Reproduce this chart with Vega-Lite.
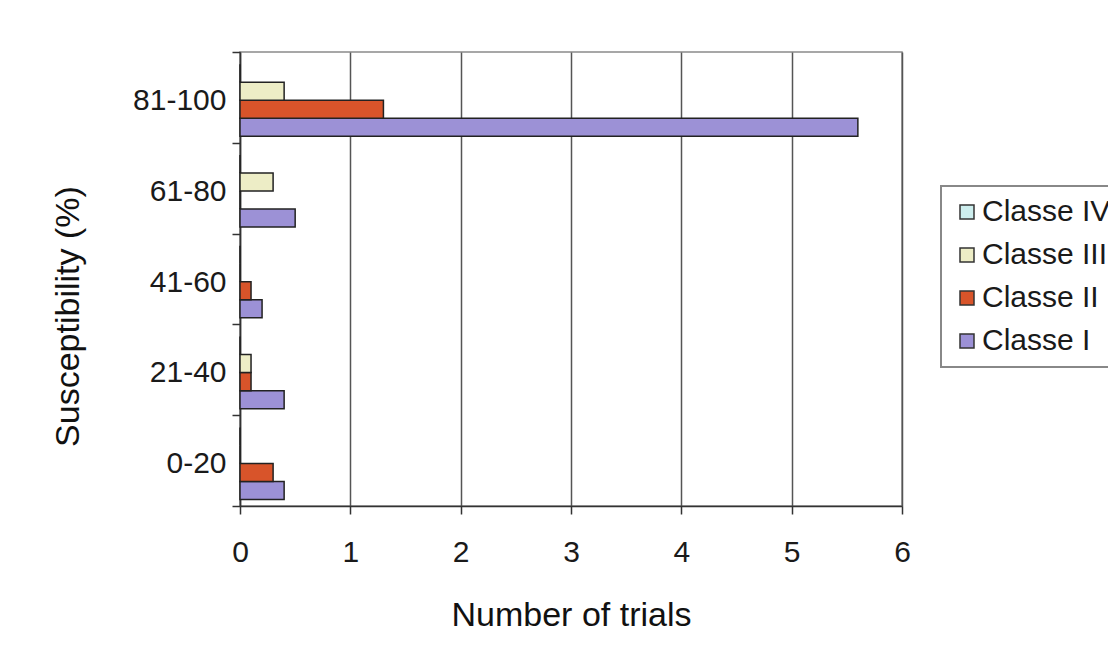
{
  "$schema": "https://vega.github.io/schema/vega-lite/v6.json",
  "width": 662,
  "height": 454,
  "autosize": {"type": "none"},
  "padding": {"left": 240, "top": 52, "right": 206, "bottom": 151},
  "background": "white",
  "config": {
    "font": "Liberation Sans",
    "view": {"stroke": "#8a8a8a", "strokeWidth": 1.5},
    "legend": {"strokeWidth": 2}
  },
  "data": {
    "values": [
      {"range": "0-20", "classe": "Classe I", "trials": 0.4},
      {"range": "0-20", "classe": "Classe II", "trials": 0.3},
      {"range": "0-20", "classe": "Classe III", "trials": 0},
      {"range": "0-20", "classe": "Classe IV", "trials": 0},
      {"range": "21-40", "classe": "Classe I", "trials": 0.4},
      {"range": "21-40", "classe": "Classe II", "trials": 0.1},
      {"range": "21-40", "classe": "Classe III", "trials": 0.1},
      {"range": "21-40", "classe": "Classe IV", "trials": 0},
      {"range": "41-60", "classe": "Classe I", "trials": 0.2},
      {"range": "41-60", "classe": "Classe II", "trials": 0.1},
      {"range": "41-60", "classe": "Classe III", "trials": 0},
      {"range": "41-60", "classe": "Classe IV", "trials": 0},
      {"range": "61-80", "classe": "Classe I", "trials": 0.5},
      {"range": "61-80", "classe": "Classe II", "trials": 0},
      {"range": "61-80", "classe": "Classe III", "trials": 0.3},
      {"range": "61-80", "classe": "Classe IV", "trials": 0},
      {"range": "81-100", "classe": "Classe I", "trials": 5.6},
      {"range": "81-100", "classe": "Classe II", "trials": 1.3},
      {"range": "81-100", "classe": "Classe III", "trials": 0.4},
      {"range": "81-100", "classe": "Classe IV", "trials": 0}
    ]
  },
  "mark": {"type": "bar", "stroke": "#222222", "strokeWidth": 1.5},
  "encoding": {
    "y": {
      "field": "range",
      "type": "nominal",
      "sort": ["81-100", "61-80", "41-60", "21-40", "0-20"],
      "scale": {"paddingInner": 0, "paddingOuter": 0},
      "axis": {
        "title": "Susceptibility (%)",
        "titleFontSize": 34,
        "titleFontWeight": "normal",
        "titleColor": "#111111",
        "titlePadding": 47,
        "titleY": 264,
        "labelFontSize": 30,
        "labelColor": "#1a1a1a",
        "labelPadding": 6,
        "labelOffset": 3,
        "tickBand": "extent",
        "tickSize": 8,
        "tickColor": "#333333",
        "tickWidth": 1.5,
        "domainColor": "#333333",
        "domainWidth": 1.5,
        "grid": false
      }
    },
    "yOffset": {
      "field": "classe",
      "type": "nominal",
      "sort": ["Classe IV", "Classe III", "Classe II", "Classe I"],
      "scale": {"paddingInner": 0, "paddingOuter": 0.52, "align": 0.65}
    },
    "x": {
      "field": "trials",
      "type": "quantitative",
      "scale": {"domain": [0, 6], "nice": false},
      "axis": {
        "title": "Number of trials",
        "titleFontSize": 34,
        "titleFontWeight": "normal",
        "titleColor": "#111111",
        "titlePadding": 31,
        "values": [0, 1, 2, 3, 4, 5, 6],
        "labelFontSize": 30,
        "labelColor": "#1a1a1a",
        "labelPadding": 23,
        "labelFlush": false,
        "tickSize": 8,
        "tickColor": "#333333",
        "tickWidth": 1.5,
        "domainColor": "#333333",
        "domainWidth": 1.5,
        "grid": true,
        "gridColor": "#555555",
        "gridWidth": 1.5
      }
    },
    "color": {
      "field": "classe",
      "type": "nominal",
      "scale": {
        "domain": ["Classe IV", "Classe III", "Classe II", "Classe I"],
        "range": ["#cdeeee", "#ededc6", "#d8542a", "#9c91d6"]
      },
      "legend": {
        "title": null,
        "orient": "none",
        "legendX": 701,
        "legendY": 134,
        "strokeColor": "#888888",
        "fillColor": "white",
        "padding": 11,
        "labelFontSize": 30,
        "labelColor": "#1a1a1a",
        "labelOffset": 0,
        "rowPadding": 13,
        "symbolType": "square",
        "symbolSize": 196,
        "symbolStrokeColor": "#333333",
        "symbolStrokeWidth": 1.5
      }
    }
  }
}
